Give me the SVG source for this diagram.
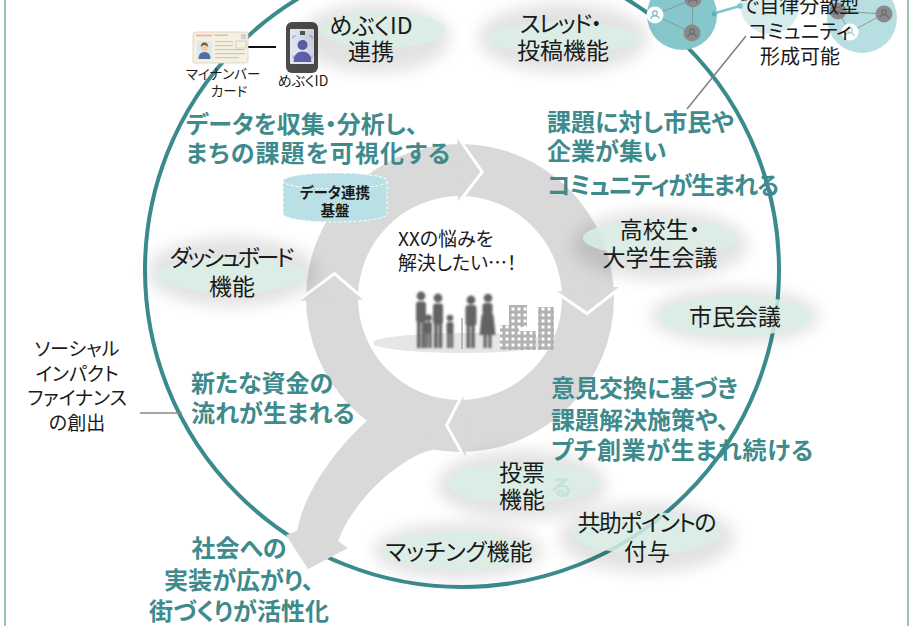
<svg xmlns="http://www.w3.org/2000/svg" width="912" height="626" viewBox="0 0 912 626">
  <defs>
    <style>
      text { font-family: "Noto Sans CJK JP", "Noto Sans", sans-serif; font-feature-settings: "palt" 1; }
      .lbl { font-size: 23px; fill: #1a1a1a; text-anchor: middle; }
      .lead { font-size: 24px; font-weight: 700; fill: #3e8a8c; }
      .note { font-size: 19px; fill: #1a1a1a; }
      .small { font-size: 13.5px; fill: #1a1a1a; text-anchor: middle; }
      .bub { fill: #dbeee6; fill-opacity: 0.85; }
      .halo { fill: #000; opacity: 0.11; }
      .ring { fill: #d9d9d9; }
      .cut { fill: none; stroke: #ffffff; stroke-width: 3; stroke-linejoin: miter; }
      .netline { stroke: #879a9b; stroke-width: 1; fill: none; }
    </style>
    <filter id="blur8" x="-50%" y="-50%" width="200%" height="200%">
      <feGaussianBlur stdDeviation="8"/>
    </filter>
    <filter id="soft1" x="-20%" y="-20%" width="140%" height="140%">
      <feGaussianBlur stdDeviation="1.1"/>
    </filter>
    <pattern id="win" width="6" height="6" patternUnits="userSpaceOnUse">
      <rect width="6" height="6" fill="#b1b1b1"/>
      <rect x="1.5" y="1.5" width="3" height="3" fill="#ffffff"/>
    </pattern>
    <g id="member">
      <circle cy="-1.8" r="2.3" fill="none" stroke-width="1.2"/>
      <path d="M-4.2,4 Q-4.2,0.8 0,0.8 Q4.2,0.8 4.2,4" fill="none" stroke-width="1.2"/>
    </g>
  </defs>

  <!-- page frame -->
  <line x1="5" y1="0" x2="5" y2="626" stroke="#9cc5b0" stroke-width="2"/>
  <line x1="908" y1="0" x2="908" y2="626" stroke="#9cc5b0" stroke-width="2"/>

  <!-- outer community circle -->
  <circle cx="462" cy="270" r="317" fill="none" stroke="#3b8b8d" stroke-width="4"/>

  <!-- community network (top right) -->
  <g id="network">
    <circle cx="770" cy="4" r="30" fill="#d6eced"/>
    <circle cx="682" cy="15" r="35" fill="#86c7cc"/>
    <circle cx="862" cy="18" r="35" fill="#b7dfe2"/>
    <line x1="712" y1="14" x2="740" y2="6" stroke="#7fc6cb" stroke-width="2.5"/>
    <circle cx="740" cy="6" r="2.8" fill="#7fc6cb"/>
    <circle cx="714" cy="14" r="2.5" fill="#5fb0b6"/>
    <path class="netline" d="M655,15 L693,-1 L692,33 Z"/>
    <path class="netline" d="M838,11 L884,14 L850,32 Z"/>
    <circle cx="693" cy="-1" r="8.5" fill="#8a8a8a"/>
    <circle cx="692" cy="33" r="8.5" fill="#8a8a8a"/>
    <circle cx="655" cy="15" r="8.5" fill="#ffffff"/>
    <circle cx="838" cy="11" r="8.5" fill="#8a8a8a"/>
    <circle cx="884" cy="14" r="8.5" fill="#8a8a8a"/>
    <circle cx="850" cy="32" r="8.5" fill="#ffffff"/>
    <use href="#member" x="655" y="15" stroke="#6fb9bf"/>
    <use href="#member" x="850" y="32" stroke="#9fd0d4"/>
    <use href="#member" x="692" y="33" stroke="#6a6a6a"/>
    <use href="#member" x="693" y="-1" stroke="#6a6a6a"/>
    <use href="#member" x="838" y="11" stroke="#6a6a6a"/>
    <use href="#member" x="884" y="14" stroke="#6a6a6a"/>
  </g>

  <!-- cycle arrows: ring, outward branch and arrowheads -->
  <g id="connectors">
    <path class="ring" fill-rule="evenodd" d="M614,298 A154,154 0 1 0 306,298 A154,154 0 1 0 614,298 Z M562,298 A102,102 0 1 1 358,298 A102,102 0 1 1 562,298 Z"/>
    <path class="ring" d="M433,450 C408,453 355,495 338,541 L348,548 L308,569 L286,535 L297,531 C305,490 337,447 370,418 L420,400 Z"/>
    <polygon class="ring" points="298.0,300.8 334.4,273.6 365.0,299.7"/>
    <polygon class="ring" points="457.2,136.0 482.2,171.9 458.3,203.0"/>
    <polygon class="ring" points="621.6,286.7 587.0,313.6 554.8,291.4"/>
    <polygon class="ring" points="465.7,459.9 446.6,425.3 463.3,392.9"/>
    <polyline class="cut" points="298.0,300.8 334.4,273.6 365.0,299.7"/>
    <polyline class="cut" points="457.2,136.0 482.2,171.9 458.3,203.0"/>
    <polyline class="cut" points="621.6,286.7 587.0,313.6 554.8,291.4"/>
    <polyline class="cut" points="465.7,459.9 446.6,425.3 463.3,392.9"/>
    <!-- link between My Number card and app -->
    <line x1="248" y1="47" x2="276" y2="47" stroke="#111" stroke-width="2"/>
    <!-- link to social impact finance -->
    <line x1="140" y1="413" x2="182" y2="413" stroke="#888" stroke-width="1.5"/>
    <!-- link to the network -->
    <line x1="746" y1="36" x2="687" y2="109" stroke="#808080" stroke-width="1.5"/>
  </g>

  <!-- centre: citizens and town -->
  <g id="centre">
    <ellipse cx="463" cy="343" rx="90" ry="10" fill="#e6e6e6"/>
    <g filter="url(#soft1)" fill="#646464">
      <circle cx="421" cy="296" r="4.4"/>
      <rect x="416" y="301.5" width="10" height="21" rx="3"/>
      <rect x="417" y="320" width="3.6" height="28"/>
      <rect x="421.6" y="320" width="3.6" height="28"/>
      <circle cx="428.5" cy="318" r="3.4"/>
      <rect x="425" y="322" width="7" height="12" rx="2"/>
      <rect x="425.5" y="332" width="2.7" height="16"/>
      <rect x="429" y="332" width="2.7" height="16"/>
      <circle cx="438" cy="298" r="4.4"/>
      <rect x="433" y="303.5" width="10" height="21" rx="3"/>
      <rect x="434" y="322" width="3.6" height="26"/>
      <rect x="438.6" y="322" width="3.6" height="26"/>
      <circle cx="450" cy="318" r="3.3"/>
      <rect x="446.5" y="322" width="7" height="12" rx="2"/>
      <rect x="447" y="332" width="2.7" height="16"/>
      <rect x="450.5" y="332" width="2.7" height="16"/>
      <circle cx="471" cy="300" r="4.4"/>
      <rect x="465.5" y="305" width="11" height="21" rx="3"/>
      <rect x="466.5" y="324" width="3.6" height="24"/>
      <rect x="471.2" y="324" width="3.6" height="24"/>
      <circle cx="488" cy="298" r="4.3"/>
      <rect x="482.5" y="303" width="10" height="14" rx="3"/>
      <path d="M481.5,315 L493.5,315 L495.5,335 L479.5,335 Z"/>
      <rect x="483.5" y="334" width="3.2" height="14"/>
      <rect x="488.3" y="334" width="3.2" height="14"/>
    </g>
    <line x1="462" y1="318" x2="462" y2="349" stroke="#a0a0a0" stroke-width="1.4"/>
    <rect x="509" y="305" width="18" height="22" fill="url(#win)"/>
    <rect x="500" y="325" width="19" height="25" fill="url(#win)"/>
    <rect x="518" y="331" width="18" height="19" fill="url(#win)"/>
    <rect x="538" y="307" width="16" height="43" fill="url(#win)"/>
    <text class="note" x="398" y="246" font-size="20">XXの悩みを</text>
    <text class="note" x="398" y="270" font-size="20">解決したい…！</text>
  </g>

  <!-- data platform -->
  <g id="data-platform">
    <path d="M283,181 L283,214 A52,8 0 0 0 387,214 L387,181 A52,8 0 0 0 283,181 Z" fill="#b9e0e4" stroke="#ffffff" stroke-width="1" stroke-dasharray="3 2"/>
    <ellipse cx="335" cy="181" rx="52" ry="8" fill="#b9e0e4" stroke="#ffffff" stroke-width="1" stroke-dasharray="3 2"/>
    <text x="335" y="198" font-size="14.5" font-weight="700" fill="#1a1a1a" text-anchor="middle">データ連携</text>
    <text x="335" y="216" font-size="14.5" font-weight="700" fill="#1a1a1a" text-anchor="middle">基盤</text>
  </g>

  <!-- ID tools -->
  <g id="mynumber-card">
    <rect x="193" y="32" width="55" height="31" rx="2" fill="#f5f1e1" stroke="#d9d1bd" stroke-width="0.8"/>
    <rect x="196" y="34.5" width="16" height="2" fill="#e9b8b2"/>
    <rect x="214" y="34.5" width="14" height="1.5" fill="#e9b8b2"/>
    <rect x="241" y="34" width="5" height="5" fill="#cfcfcf"/>
    <rect x="197" y="41" width="15" height="18" fill="#d9e9f1"/>
    <path d="M198.5,59 Q198.5,52 204.5,52 Q210.5,52 210.5,59 Z" fill="#4f6fa3"/>
    <circle cx="204.5" cy="47.5" r="3.6" fill="#f1cda9"/>
    <path d="M200.8,47 Q200.8,42.5 204.5,42.5 Q208.2,42.5 208.2,47 Q206.5,44.8 204.5,45 Q202.5,44.8 200.8,47 Z" fill="#7b5532"/>
    <g fill="#c8c8c8">
      <rect x="215" y="41" width="18" height="1.2"/>
      <rect x="215" y="45" width="18" height="1.2"/>
      <rect x="215" y="49" width="30" height="1.2"/>
      <rect x="215" y="53" width="30" height="1.2"/>
      <rect x="215" y="57" width="24" height="1.2"/>
    </g>
    <rect x="236" y="41" width="10" height="7" fill="none" stroke="#bbbbbb" stroke-width="0.6"/>
    <text class="small" x="223" y="79">マイナンバー</text>
    <text class="small" x="229" y="96">カード</text>
  </g>

  <g id="mebuku-app">
    <rect x="286" y="22" width="32" height="51" rx="6" fill="#4b4b4b"/>
    <rect x="290" y="29" width="24" height="35" rx="1" fill="#e3e7f2"/>
    <rect x="300" y="31" width="5" height="4" fill="#555555"/>
    <path d="M293,39 v-3 h3 M309,36 h3 v3 M293,55 v3 h3 M312,55 v3 h-3" stroke="#8c93c4" stroke-width="0.8" fill="none"/>
    <circle cx="302.5" cy="45" r="5" fill="#5d62ab"/>
    <path d="M293.5,62 Q293.5,51.5 302.5,51.5 Q311.5,51.5 311.5,62 Z" fill="#5d62ab"/>
    <text x="303" y="86" font-size="14" fill="#1a1a1a" text-anchor="middle">めぶくID</text>
  </g>

  <!-- feature bubbles -->
  <g id="mebuku-link">
    <ellipse class="halo" cx="375" cy="38" rx="75" ry="35" filter="url(#blur8)"/>
    <ellipse class="bub" cx="383" cy="30" rx="63" ry="18"/>
    <text class="lbl" x="371" y="34">めぶくID</text>
    <text class="lbl" x="371" y="60">連携</text>
  </g>
  <g id="thread">
    <ellipse class="halo" cx="563" cy="38" rx="85" ry="35" filter="url(#blur8)"/>
    <ellipse class="bub" cx="563" cy="38" rx="75" ry="16"/>
    <text class="lbl" x="561" y="32" textLength="82">スレッド・</text>
    <text class="lbl" x="563" y="59">投稿機能</text>
  </g>
  <g id="dashboard">
    <ellipse class="halo" cx="232" cy="272" rx="85" ry="35" filter="url(#blur8)"/>
    <ellipse class="bub" cx="232" cy="275" rx="75" ry="18"/>
    <text class="lbl" x="232" y="266" textLength="125">ダッシュボード</text>
    <text class="lbl" x="232" y="295">機能</text>
  </g>
  <g id="student-council">
    <ellipse class="halo" cx="660" cy="245" rx="88" ry="35" filter="url(#blur8)"/>
    <ellipse class="bub" cx="660" cy="238" rx="77" ry="18"/>
    <text class="lbl" x="660" y="238">高校生・</text>
    <text class="lbl" x="660" y="266">大学生会議</text>
  </g>
  <g id="citizen-council">
    <ellipse class="halo" cx="735" cy="316" rx="85" ry="28" filter="url(#blur8)"/>
    <ellipse class="bub" cx="735" cy="316" rx="75" ry="20"/>
    <text class="lbl" x="735" y="325">市民会議</text>
  </g>
  <g id="voting">
    <ellipse class="halo" cx="522" cy="485" rx="85" ry="35" filter="url(#blur8)"/>
    <ellipse class="bub" cx="522" cy="483" rx="75" ry="20"/>
    <text x="561" y="495" font-size="22" font-weight="700" fill="#c7e1db" text-anchor="middle">る</text>
    <text class="lbl" x="522" y="481">投票</text>
    <text class="lbl" x="522" y="508">機能</text>
  </g>
  <g id="points">
    <ellipse class="halo" cx="647" cy="538" rx="88" ry="35" filter="url(#blur8)"/>
    <ellipse class="bub" cx="647" cy="533" rx="75" ry="21"/>
    <text class="lbl" x="647" y="531" textLength="139">共助ポイントの</text>
    <text class="lbl" x="647" y="560">付与</text>
  </g>
  <g id="matching">
    <ellipse class="halo" cx="458" cy="551" rx="85" ry="28" filter="url(#blur8)"/>
    <ellipse class="bub" cx="458" cy="551" rx="75" ry="19"/>
    <text class="lbl" x="459" y="560">マッチング機能</text>
  </g>

  <!-- cycle stage headings -->
  <g id="stage-visualize">
    <text class="lead" x="186" y="133">データを収集・分析し、</text>
    <text class="lead" x="186" y="162" textLength="264">まちの課題を可視化する</text>
  </g>
  <g id="stage-community">
    <text class="lead" x="547" y="131">課題に対し市民や</text>
    <text class="lead" x="547" y="160">企業が集い</text>
    <text class="lead" x="547" y="194" textLength="232">コミュニティが生まれる</text>
  </g>
  <g id="stage-action">
    <text class="lead" x="551" y="397">意見交換に基づき</text>
    <text class="lead" x="551" y="429">課題解決施策や、</text>
    <text class="lead" x="551" y="459" textLength="262">プチ創業が生まれ続ける</text>
  </g>
  <g id="stage-funding">
    <text class="lead" x="191" y="392">新たな資金の</text>
    <text class="lead" x="191" y="422">流れが生まれる</text>
  </g>
  <g id="stage-society">
    <text class="lead" x="239" y="557" text-anchor="middle">社会への</text>
    <text class="lead" x="239" y="589" text-anchor="middle">実装が広がり、</text>
    <text class="lead" x="239" y="620" text-anchor="middle">街づくりが活性化</text>
  </g>

  <!-- side notes -->
  <g id="impact-finance">
    <text class="note" x="77" y="356" text-anchor="middle">ソーシャル</text>
    <text class="note" x="77" y="381" text-anchor="middle">インパクト</text>
    <text class="note" x="77" y="405" text-anchor="middle">ファイナンス</text>
    <text class="note" x="77" y="430" text-anchor="middle">の創出</text>
  </g>
  <g id="autonomous-community">
    <text x="800" y="13" font-size="20" fill="#1a1a1a" text-anchor="middle">で自律分散型</text>
    <text x="800" y="39" font-size="20" fill="#1a1a1a" text-anchor="middle">コミュニティ</text>
    <text x="800" y="64" font-size="20" fill="#1a1a1a" text-anchor="middle">形成可能</text>
  </g>
</svg>
